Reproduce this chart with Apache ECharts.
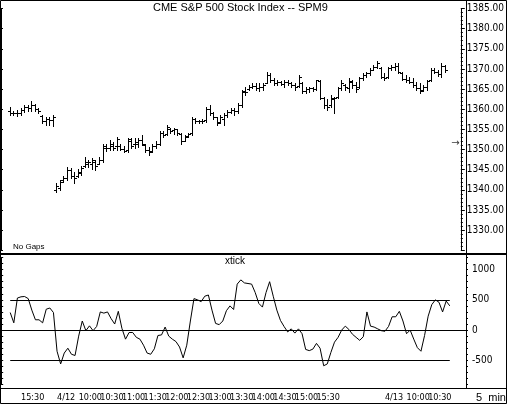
<!DOCTYPE html>
<html>
<head>
<meta charset="utf-8">
<script src="https://cdn.jsdelivr.net/npm/echarts@6/dist/echarts.min.js"></script>
<style>
  html, body { margin: 0; padding: 0; background: #fff; }
  #chart { width: 507px; height: 405px; }
</style>
</head>
<body>
<div id="chart"></div>
<script>
// 5 minute bars, one slot per bar, no gaps between sessions
var slotCount = 129;
var firstSlot = 2;

var opens = [
  1359.5,1359,1359,1359,1359.8,1360.5,1360.3,1361,1360,1358.3,1357,1357.5,1357.3,
  1340,1340.5,1342.5,1343,1345,1343.5,1343.5,1344.2,1345.8,1346.5,
  1346.5,1347,1346.5,1347.5,1350.5,1350.5,1351,1350.8,1351,1350.2,
  1350,1352,1351.5,1351.5,1352.4,1351.2,1350,1349.7,1350.8,1351.5,
  1354,1353.8,1355,1354.8,1355,1353.8,1352.2,1353.4,1354,1357.5,
  1357,1357,1357.3,1360,1359,1358,1356.8,1357.5,1358.6,1359.3,
  1359.8,1359.5,1361,1364.2,1365,1365.6,1365.8,1365.3,1365.5,1366.5,
  1368.5,1367.2,1366.6,1366.8,1366.3,1366.8,1366.5,1366,1365.8,1366.5,
  1364.5,1365,1365.2,1365,1367,1362.8,1361,1361,1362.5,1363,
  1365.2,1366,1365.3,1366.8,1366,1365.5,1367.8,1368.5,1369,1369.8,
  1370.5,
  1370.2,1368,1368,1370.3,1370.5,1370.8,1369,1367.6,1367.2,1366.8,
  1366,1365.2,1364.8,1365.5,1367.3,1369.8,1369.3,1368.8,1370.8
];
var highs = [
  1360.5,1359.5,1359.7,1360.2,1361,1361,1362,1361.3,1360.2,1358.6,1358,1358,1358.5,
  1341.7,1342.4,1343.5,1345.6,1345.5,1344.5,1345.2,1345.8,1348.2,1347.4,
  1347.8,1347.5,1348.2,1351.5,1351.5,1352.3,1351.8,1353.2,1351.5,1350.8,
  1352.8,1352.9,1352.8,1352.8,1353.6,1351.5,1350.7,1351.5,1352,1354.6,
  1354.5,1356.1,1355.4,1355.4,1355.2,1354,1353.6,1354,1358.2,1357.8,
  1357.3,1357.5,1360.5,1361,1359.4,1358.2,1358.6,1359,1359.8,1360.2,
  1360.2,1361.5,1364.8,1365.4,1366,1366.4,1366.4,1366.4,1366.4,1369.3,
  1368.9,1367.7,1367.3,1367,1367.3,1367.3,1366.8,1366.4,1368.5,1366.8,
  1365.6,1365.6,1365.6,1367.3,1367.2,1363.1,1362.5,1363.5,1363.1,1365.6,
  1367.3,1366.2,1367.7,1367.3,1366.8,1368.1,1368.9,1369.3,1370.2,1371,
  1372,
  1370.4,1368.9,1370.6,1371,1371.4,1371.4,1369.2,1368.5,1368.1,1367.7,
  1366.8,1366.4,1366,1367.3,1370.2,1370.2,1369.7,1371.4,1371
];
var lows = [
  1358.5,1358.5,1358.3,1358.6,1359.2,1359.5,1359.6,1359.5,1359,1356.5,1356.2,1356,1355.8,
  1339.5,1340,1342,1342.5,1343,1341.8,1343.2,1343.6,1345.6,1345.7,
  1345.2,1345,1346.4,1346.8,1349.6,1350,1349.9,1350,1349.9,1349.3,
  1349.5,1350.3,1350.5,1350.7,1351.1,1349.5,1348.6,1349.5,1350.5,1351.2,
  1353.2,1353.6,1354,1353.8,1353.6,1351.5,1352,1353.2,1353.6,1356.5,
  1356.5,1356.6,1356.9,1358.6,1357.5,1356.1,1356.5,1356.1,1358.2,1359,
  1358.6,1359,1360.6,1363.5,1364.8,1365.2,1364.8,1364.5,1364.8,1366.4,
  1366.8,1366,1366,1365.9,1365.6,1366,1365.6,1364.8,1365.5,1364,
  1364,1364.4,1364.6,1364.8,1362.5,1360.2,1359.8,1360.6,1359,1362.7,
  1364.8,1364.8,1364.4,1365.2,1364.4,1365.3,1367.3,1368.1,1368.5,1369.7,
  1370.2,
  1367.7,1367.3,1367.7,1369.7,1369.7,1368.9,1367.3,1366.8,1366.4,1365.6,
  1364.8,1364,1364.6,1364.8,1367.1,1368.9,1368.3,1368.1,1369.3
];
var closes = [
  1359,1359,1359,1359.8,1360.5,1360.3,1361,1360,1359.5,1357,1357.5,1357.3,1358,
  1341,1342,1343,1345,1343.5,1343,1344.5,1345.5,1347,1346.8,
  1347.5,1346,1347.5,1351,1350.5,1351.5,1350.5,1352.5,1350.2,1349.7,
  1352.5,1351,1351.8,1352.3,1351.5,1350,1349.5,1350.8,1351.5,1354,
  1353.6,1355.5,1354.6,1355,1354,1352,1353,1353.8,1357.5,1357,
  1357,1357.2,1360,1359,1358,1356.6,1358,1358.6,1359.2,1359.8,
  1359.5,1361,1364.5,1364.2,1365.5,1365.8,1365.2,1365.5,1366,1368.5,
  1367.3,1366.5,1366.8,1366.3,1366.8,1366.6,1366,1365.5,1368,1364.5,
  1365,1365.3,1365,1367.2,1362.8,1361,1360.5,1362.8,1362.8,1365.2,
  1366.5,1365.5,1367,1366,1365,1367.8,1368.5,1369,1369.8,1370.6,
  1371.5,
  1368,1367.8,1370.3,1370.5,1370.8,1369.3,1367.6,1367.2,1366.8,1366,
  1365.2,1364.5,1365.5,1367,1369.8,1369.3,1368.8,1370.8,1369.8
];
var xtick = [
  290,120,530,550,555,520,330,170,170,120,345,365,290,
  -350,-560,-380,-300,-400,-420,-100,150,-10,70,
  -10,60,300,280,300,190,100,310,30,-150,
  -40,-40,-120,-150,-250,-380,-400,-310,-90,-80,
  50,-100,-150,-190,-280,-460,-250,150,520,500,
  470,560,580,330,110,90,150,320,400,340,
  760,830,780,770,760,620,440,380,620,800,
  560,330,160,60,-30,20,-50,20,-60,-320,
  -340,-315,-220,-300,-590,-560,-370,-200,-120,0,
  65,10,-70,-120,-170,-110,300,65,50,20,
  -10,
  -20,60,220,220,310,150,-60,0,-150,-290,
  -350,-90,230,420,500,460,300,480,400
];
var tickLevels = [500, 0, -500];
var tickLabels = [1000, 500, 0, -500];
var arrowSlot = 127;
var arrowPrice = 1351.5;

var daySlots = [15, 106];
var timeSlots = [5, 15, 21, 27, 33, 39, 45, 51, 57, 63, 69, 75, 81, 87, 106, 112, 118];
var timeTexts = ['15:30', '4/12', '10:00', '10:30', '11:00', '11:30', '12:00', '12:30',
  '13:00', '13:30', '14:00', '14:30', '15:00', '15:30', '4/13', '10:00', '10:30'];

var fontFamily = "'Liberation Sans', Arial, sans-serif";
var narrowFont = "'Liberation Sans Narrow', 'DejaVu Sans Condensed', sans-serif";

var slots = [];
for (var i = 0; i < slotCount; i++) slots.push(String(i));

var bars = [];
var tickLine = [];
for (var i = 0; i < slotCount; i++) tickLine.push(null);
opens.forEach(function (o, k) {
  bars.push([firstSlot + k, o, closes[k], lows[k], highs[k]]);
  tickLine[firstSlot + k] = xtick[k];
});
var lastSlot = firstSlot + opens.length - 1;

function renderBar(params, api) {
  var x = api.value(0);
  var o = api.coord([x, api.value(1)]);
  var c = api.coord([x, api.value(2)]);
  var l = api.coord([x, api.value(3)]);
  var h = api.coord([x, api.value(4)]);
  var px = Math.round(o[0]) + 0.5;
  var oy = Math.round(o[1]) + 0.5;
  var cy = Math.round(c[1]) + 0.5;
  var style = { stroke: '#000', lineWidth: 1 };
  return {
    type: 'group',
    children: [
      { type: 'line', shape: { x1: px, y1: Math.round(h[1]), x2: px, y2: Math.round(l[1]) + 1 }, style: style },
      { type: 'line', shape: { x1: px - 2.5, y1: oy, x2: px, y2: oy }, style: style },
      { type: 'line', shape: { x1: px, y1: cy, x2: px + 2.5, y2: cy }, style: style }
    ]
  };
}

var chart = echarts.init(document.getElementById('chart'));
chart.setOption({
  animation: false,
  backgroundColor: '#fff',
  textStyle: { fontFamily: fontFamily, color: '#000' },
  title: [
    { text: 'CME S&P 500 Stock Index -- SPM9', left: 153, top: 2, padding: 0,
      textStyle: { fontSize: 11, fontWeight: 'normal', color: '#000', fontFamily: fontFamily } },
    { text: 'No Gaps', left: 13, top: 243, padding: 0,
      textStyle: { fontSize: 8, fontWeight: 'normal', color: '#000', fontFamily: fontFamily } },
    { text: 'xtick', left: 225, top: 256, padding: 0,
      textStyle: { fontSize: 10, fontWeight: 'normal', color: '#000', fontFamily: fontFamily } },
    { text: '5  min', left: 476, top: 392, padding: 0,
      textStyle: { fontSize: 11, fontWeight: 'normal', color: '#000', fontFamily: fontFamily } }
  ],
  grid: [
    { left: 1, right: 41, top: 8.5, height: 241.8 },
    { left: 1, right: 41, top: 257.5, height: 127 }
  ],
  xAxis: [
    { type: 'category', gridIndex: 0, data: slots, show: false },
    {
      type: 'category', gridIndex: 1, data: slots, offset: 4,
      axisLine: { lineStyle: { color: '#000', width: 1 } },
      axisTick: {
        interval: function (idx) { return daySlots.indexOf(idx) >= 0; },
        length: 16, lineStyle: { color: '#000' }
      },
      axisLabel: {
        // first and last slot carry empty labels so no real label is treated as an end label
        interval: function (idx) {
          return idx === 0 || idx === slotCount - 1 || timeSlots.indexOf(idx) >= 0;
        },
        formatter: function (v, idx) {
          var j = timeSlots.indexOf(idx);
          return j >= 0 ? timeTexts[j] : '';
        },
        hideOverlap: false,
        align: 'left', margin: 5,
        fontSize: 9, color: '#000', fontFamily: narrowFont
      }
    }
  ],
  yAxis: [
    {
      type: 'value', gridIndex: 0, position: 'right', min: 1325, max: 1385, interval: 5,
      axisLine: { show: true, lineStyle: { color: '#000' } },
      axisTick: { show: true, length: 4, lineStyle: { color: '#000' } },
      minorTick: { show: true, splitNumber: 5, length: 2, lineStyle: { color: '#000' } },
      splitLine: { show: false },
      axisLabel: {
        margin: 6, showMinLabel: false, color: '#000', fontSize: 10, fontFamily: narrowFont,
        formatter: function (v) { return v.toFixed(2); }
      }
    },
    {
      type: 'value', gridIndex: 0, position: 'left', min: 1325, max: 1385, interval: 5,
      axisLine: { show: true, lineStyle: { color: '#000' } },
      axisTick: { show: true, inside: true, length: 2, lineStyle: { color: '#000' } },
      splitLine: { show: false }, axisLabel: { show: false }
    },
    {
      type: 'value', gridIndex: 1, position: 'right', min: -900, max: 1200, interval: 100,
      axisLine: { show: true, lineStyle: { color: '#000' } },
      axisTick: { show: true, length: 2, lineStyle: { color: '#000' } },
      splitLine: { show: false },
      axisLabel: {
        margin: 6, color: '#000', fontSize: 10, fontFamily: narrowFont,
        formatter: function (v) { return tickLabels.indexOf(v) >= 0 ? String(v) : ''; }
      }
    },
    {
      type: 'value', gridIndex: 1, position: 'left', min: -900, max: 1200, interval: 100,
      axisLine: { show: true, lineStyle: { color: '#000' } },
      axisTick: { show: true, inside: true, length: 2, lineStyle: { color: '#000' } },
      splitLine: { show: false }, axisLabel: { show: false }
    }
  ],
  series: [
    {
      name: 'SPM9', type: 'custom', xAxisIndex: 0, yAxisIndex: 0,
      renderItem: renderBar, data: bars, encode: { x: 0, y: [1, 2, 3, 4] }
    },
    {
      type: 'scatter', xAxisIndex: 0, yAxisIndex: 0, symbolSize: 1, silent: true,
      itemStyle: { color: 'rgba(0,0,0,0)' },
      data: [[arrowSlot, arrowPrice]],
      label: { show: true, position: 'inside', formatter: '\u2192', fontSize: 10, color: '#000',
        fontFamily: "'DejaVu Sans', sans-serif" }
    },
    {
      name: 'xtick', type: 'line', xAxisIndex: 1, yAxisIndex: 2, data: tickLine,
      showSymbol: false, symbol: 'none', clip: false,
      lineStyle: { color: '#000', width: 1 },
      markLine: {
        silent: true, symbol: ['none', 'none'], label: { show: false },
        data: tickLevels.map(function (lv) {
          return [
            { coord: [String(firstSlot), lv], lineStyle: { color: '#000', width: 1, type: lv === 0 ? [1, 3] : 'solid' } },
            { coord: [String(lastSlot), lv] }
          ];
        })
      }
    }
  ],
  graphic: [
    { type: 'rect', silent: true, shape: { x: 0.5, y: 0.5, width: 506, height: 403 },
      style: { fill: null, stroke: '#000', lineWidth: 1 } },
    { type: 'line', silent: true, shape: { x1: 0, y1: 254, x2: 507, y2: 254 },
      style: { stroke: '#000', lineWidth: 2 } },
    { type: 'line', silent: true, shape: { x1: 0, y1: 388.5, x2: 507, y2: 388.5 },
      style: { stroke: '#000', lineWidth: 1 } },
    { type: 'line', silent: true, shape: { x1: 466.5, y1: 0, x2: 466.5, y2: 388 },
      style: { stroke: '#000', lineWidth: 1 } }
  ]
});
</script>
</body>
</html>
